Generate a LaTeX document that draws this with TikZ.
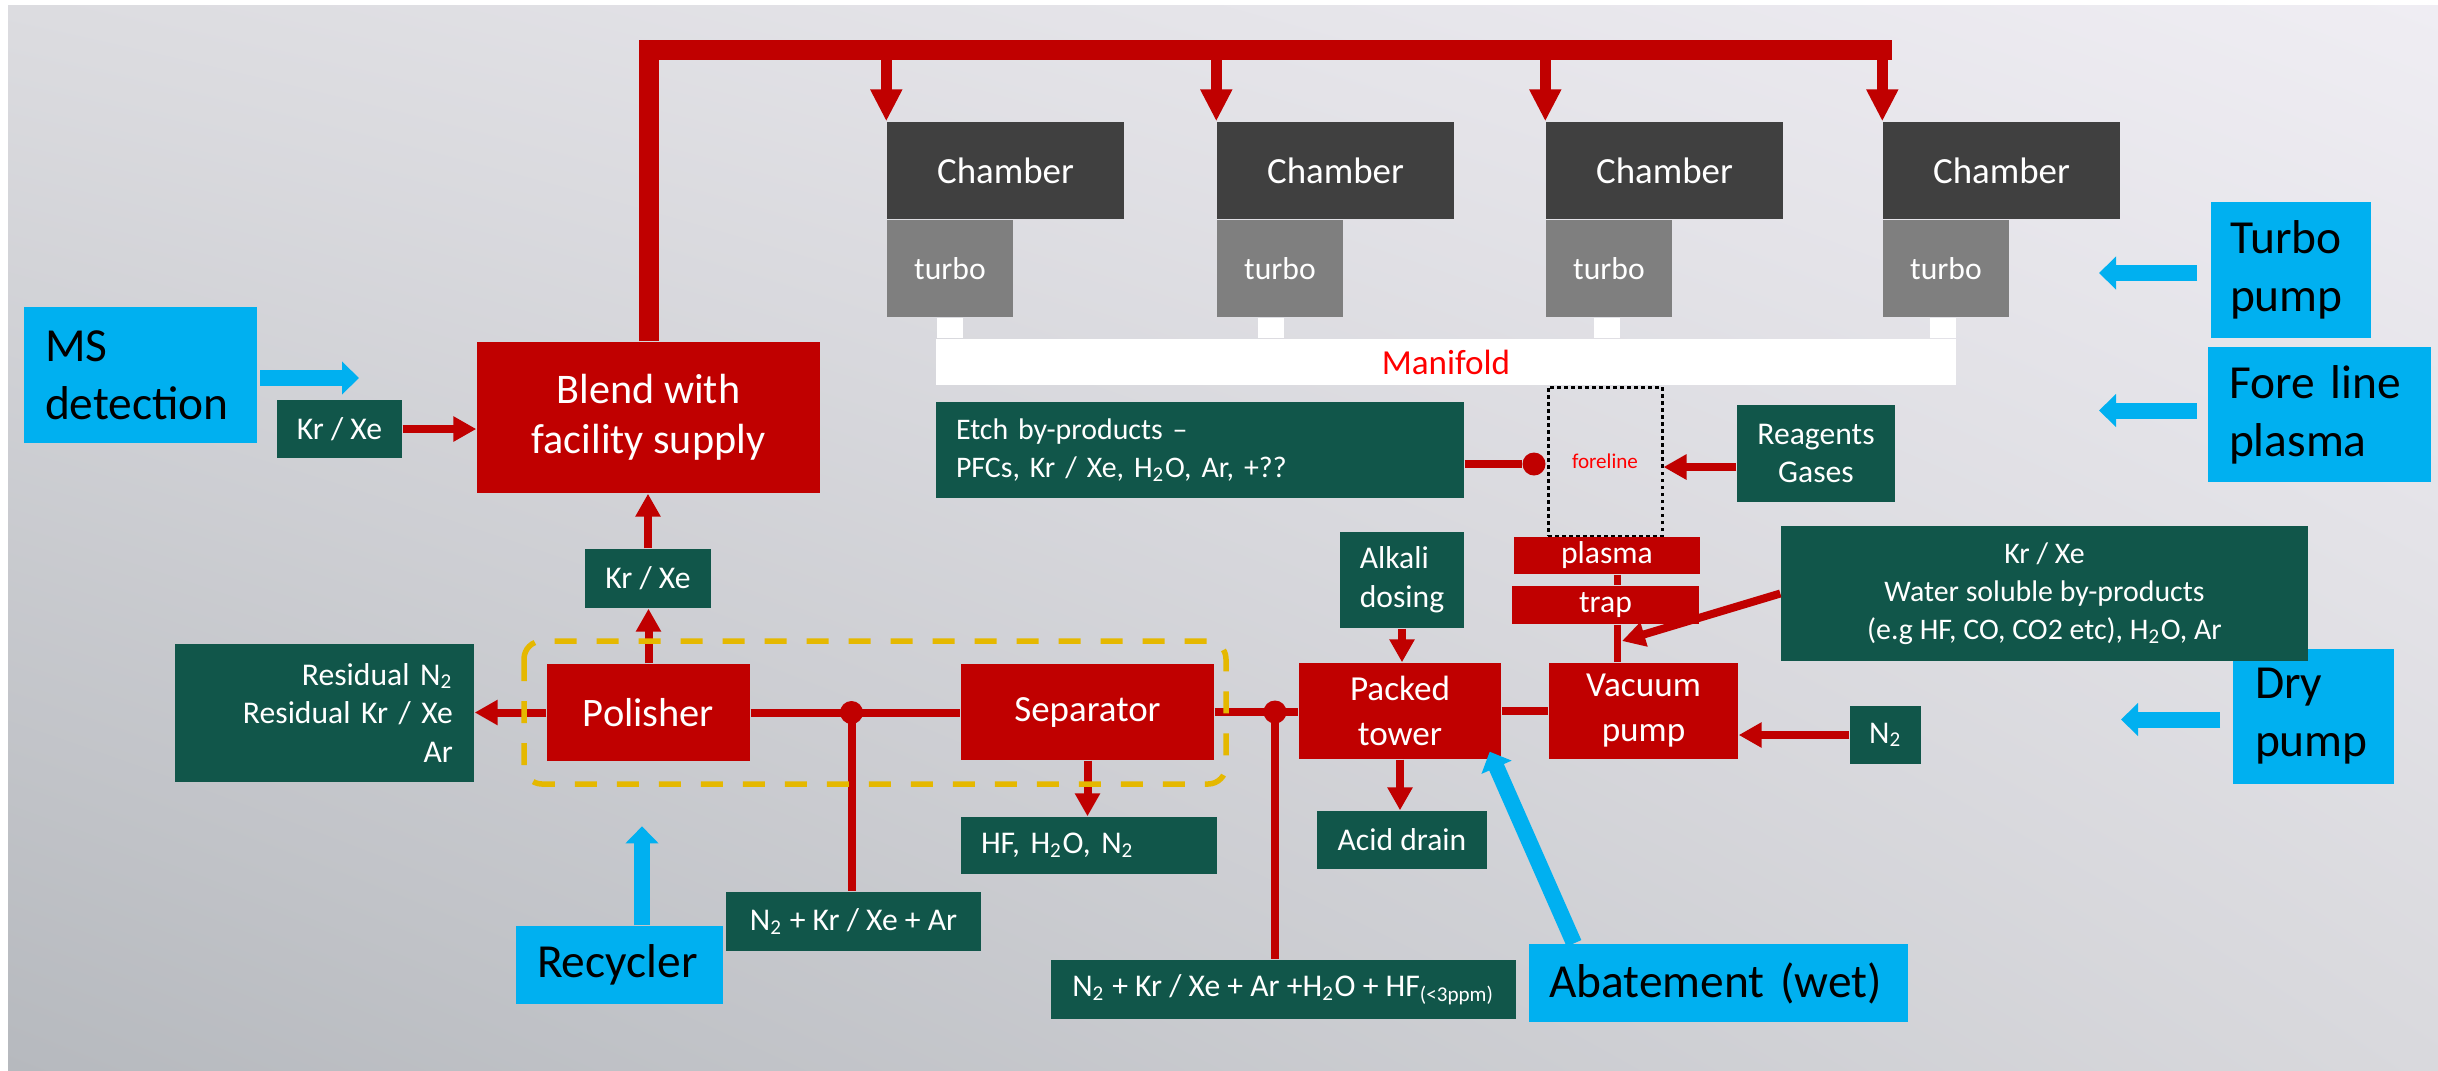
\documentclass[tikz,border=0pt]{standalone}
\usepackage{fontspec}
\setmainfont{Carlito}
\usepackage{xcolor}
\usetikzlibrary{arrows.meta, positioning, shadings}

\definecolor{procred}{HTML}{C00000}
\definecolor{gasgreen}{HTML}{11564A}
\definecolor{noteblue}{HTML}{00B0F0}
\definecolor{chambergray}{HTML}{404040}
\definecolor{turbogray}{HTML}{7F7F7F}
\definecolor{manired}{HTML}{FF0000}
\definecolor{loopyellow}{HTML}{E5B800}
\definecolor{bgul}{HTML}{DCDCE0}
\definecolor{bgur}{HTML}{EFEDF3}
\definecolor{bgll}{HTML}{B6B9BE}
\definecolor{bglr}{HTML}{D9D9DD}

\tikzset{
	procbox/.style={fill=procred, text=white, inner sep=0pt, align=center, font=\fontsize{10}{12.8}\selectfont},
	gasbox/.style={fill=gasgreen, text=white, inner sep=0pt, align=center, font=\fontsize{9}{11}\selectfont},
	notebox/.style={fill=noteblue, text=black, inner ysep=0pt, inner xsep=0.2cm, align=left, font=\fontsize{13.5}{16.5}\selectfont},
	chamberbox/.style={fill=chambergray, text=white, inner sep=0pt, font=\fontsize{10.5}{12}\selectfont, minimum width=2.37cm, minimum height=0.97cm},
	turbobox/.style={fill=turbogray, text=white, inner sep=0pt, font=\fontsize{9}{11}\selectfont, minimum width=1.26cm, minimum height=0.97cm, anchor=north west},
	junction/.style={circle, fill=procred, inner sep=0pt, minimum size=0.23cm},
	pipe/.style={draw=procred, line width=0.08cm},
	flow/.style={pipe, -{Triangle[length=0.23cm, width=0.24cm]}},
	bus/.style={draw=procred, line width=0.2cm},
	feed/.style={draw=procred, line width=0.11cm, -{Triangle[length=0.32cm, width=0.30cm]}},
	hint/.style={draw=noteblue, line width=0.16cm, -{Triangle[length=0.17cm, width=0.32cm]}},
}

\begin{document}
\begin{tikzpicture}[x=1cm, y=-1cm]
	% Slide background:
	\useasboundingbox (0,0) rectangle (24.38,10.70);
	\fill[white] (0,0) rectangle (24.38,10.70);
	\shade[upper left=bgul, upper right=bgur, lower left=bgll, lower right=bglr] (0.08,0.05) rectangle (24.38,10.70);

	% Paths, nodes and wires:
	\node[notebox, text width=1.91cm, inner xsep=0.21cm, minimum height=1.36cm] (ms) at (1.405,3.75) {MS\\detection};
	\node[gasbox, minimum width=1.25cm, minimum height=0.58cm] (krxeA) at (3.395,4.29) {Kr / Xe};
	\node[procbox, minimum width=3.43cm, minimum height=1.51cm, font=\fontsize{12}{14.2}\selectfont] (blend) at (6.485,4.175) {Blend with\\facility supply};

	\node[chamberbox] (chamber1) at (10.055,1.705) {Chamber};
	\node[chamberbox] (chamber2) at (13.355,1.705) {Chamber};
	\node[chamberbox] (chamber3) at (16.645,1.705) {Chamber};
	\node[chamberbox] (chamber4) at (20.015,1.705) {Chamber};
	\node[turbobox] (turbo1) at (chamber1.south west) {turbo};
	\node[turbobox] (turbo2) at (chamber2.south west) {turbo};
	\node[turbobox] (turbo3) at (chamber3.south west) {turbo};
	\node[turbobox] (turbo4) at (chamber4.south west) {turbo};

	\node[fill=white, minimum width=10.20cm, minimum height=0.46cm, inner sep=0pt, text=manired, font=\fontsize{10}{12}\selectfont] (manifold) at (14.46,3.62) {Manifold};
	\draw[white, line width=0.26cm] (turbo1.south) -- (turbo1.south |- manifold.north);
	\draw[white, line width=0.26cm] ([xshift=-0.09cm]turbo2.south) -- ([xshift=-0.09cm]turbo2.south |- manifold.north);
	\draw[white, line width=0.26cm] ([xshift=-0.02cm]turbo3.south) -- ([xshift=-0.02cm]turbo3.south |- manifold.north);
	\draw[white, line width=0.26cm] ([xshift=-0.03cm]turbo4.south) -- ([xshift=-0.03cm]turbo4.south |- manifold.north);

	\node[gasbox, align=left, text width=4.88cm, inner xsep=0.2cm, minimum height=0.96cm, font=\fontsize{8.5}{11}\selectfont] (etch) at (12.00,4.50) {Etch by-products \textendash\\PFCs, Kr / Xe, H\textsubscript{2}O, Ar, +??};
	\node[draw=black, line width=0.03cm, dash pattern=on 0.035cm off 0.035cm, minimum width=1.14cm, minimum height=1.49cm, inner sep=0pt, text=manired, font=\fontsize{6}{7}\selectfont] (foreline) at (16.05,4.615) {foreline};
	\node[gasbox, minimum width=1.58cm, minimum height=0.97cm] (reagents) at (18.16,4.535) {Reagents\\Gases};

	\node[notebox, text width=1.22cm, inner xsep=0.19cm, minimum height=1.36cm] (turbopump) at (22.91,2.70) {Turbo\\pump};
	\node[notebox, text width=1.81cm, inner xsep=0.21cm, minimum height=1.35cm] (foreplasma) at (23.195,4.145) {Fore line\\plasma};
	\node[notebox, text width=1.17cm, inner xsep=0.22cm, minimum height=1.35cm] (drypump) at (23.135,7.165) {Dry\\pump};
	\node[notebox, text width=3.39cm, minimum height=0.78cm] (abatement) at (17.185,9.83) {Abatement (wet)};
	\node[notebox, text width=1.65cm, inner xsep=0.21cm, minimum height=0.78cm] (recycler) at (6.195,9.65) {Recycler};

	\node[gasbox, minimum width=5.27cm, minimum height=1.35cm, font=\fontsize{8.5}{10.8}\selectfont] (water) at (20.445,5.935) {Kr / Xe\\Water soluble by-products\\(e.g HF, CO, CO2 etc), H\textsubscript{2}O, Ar};
	\node[gasbox, minimum width=0.71cm, minimum height=0.58cm] (ntwo) at (18.855,7.35) {N\textsubscript{2}};

	\node[procbox, minimum width=1.86cm, minimum height=0.37cm, font=\fontsize{9}{11}\selectfont] (plasma) at (16.07,5.555) {plasma};
	\node[procbox, minimum width=1.87cm, minimum height=0.38cm, font=\fontsize{9}{11}\selectfont] (trap) at (16.055,6.05) {trap};
	\node[procbox, minimum width=1.89cm, minimum height=0.96cm] (vacuum) at (16.435,7.11) {Vacuum\\pump};
	\node[procbox, minimum width=2.02cm, minimum height=0.96cm] (packed) at (14.00,7.11) {Packed\\tower};
	\node[gasbox, align=left, minimum width=1.24cm, minimum height=0.96cm] (alkali) at (14.02,5.80) {Alkali\\dosing};
	\node[gasbox, minimum width=1.70cm, minimum height=0.58cm] (acid) at (14.02,8.40) {Acid drain};

	\node[procbox, minimum width=2.53cm, minimum height=0.96cm, font=\fontsize{10.5}{12}\selectfont] (separator) at (10.875,7.12) {Separator};
	\node[gasbox, align=left, text width=2.16cm, inner xsep=0.2cm, minimum height=0.57cm] (hf) at (10.89,8.455) {HF, H\textsubscript{2}O, N\textsubscript{2}};
	\node[gasbox, minimum width=4.65cm, minimum height=0.59cm] (nhf) at (12.835,9.895) {N\textsubscript{2} + Kr / Xe + Ar +H\textsubscript{2}O + HF\textsubscript{(<3ppm)}};

	\node[procbox, minimum width=2.03cm, minimum height=0.97cm, font=\fontsize{11.5}{13}\selectfont] (polisher) at (6.485,7.125) {Polisher};
	\node[gasbox, minimum width=1.26cm, minimum height=0.59cm] (krxeB) at (6.48,5.785) {Kr / Xe};
	\node[gasbox, align=right, text width=2.57cm, inner xsep=0.21cm, minimum height=1.38cm] (residual) at (3.245,7.13) {Residual N\textsubscript{2}\\Residual Kr / Xe\\Ar};
	\node[gasbox, minimum width=2.55cm, minimum height=0.59cm] (nkr) at (8.535,9.215) {N\textsubscript{2} + Kr / Xe + Ar};

	% supply bus to the chambers
	\coordinate (busline) at (0,0.495);
	\path (chamber4.north west |- busline) ++(0.1,0) coordinate (busend);
	\draw[bus] (blend.north) |- (busend);
	\draw[feed] (chamber1.north west |- busline) -- (chamber1.north west);
	\draw[feed] (chamber2.north west |- busline) -- (chamber2.north west);
	\draw[feed] (chamber3.north west |- busline) -- (chamber3.north west);
	\draw[feed] (chamber4.north west |- busline) -- (chamber4.north west);

	% process lines
	\draw[flow] (krxeA.east) -- (krxeA.east -| blend.west);
	\draw[flow] (krxeB.north) -- (krxeB.north |- blend.south);
	\draw[flow] (polisher.north) -- (polisher.north |- krxeB.south);
	\draw[flow] (polisher.west) -- (polisher.west -| residual.east);
	\draw[pipe] (polisher.east) -- (polisher.east -| separator.west);
	\draw[pipe] (separator.east) -- (separator.east -| packed.west);
	\node[junction] (junA) at (8.515,7.125) {};
	\node[junction] (junB) at (12.75,7.12) {};
	\draw[pipe] (junA.center) -- (junA.center |- nkr.north);
	\draw[pipe] (junB.center) -- (junB.center |- nhf.north);
	\draw[flow] (separator.south) -- (separator.south |- hf.north);
	\draw[flow] (alkali.south) -- (alkali.south |- packed.north);
	\draw[flow] (packed.south) -- (packed.south |- acid.north);
	\draw[pipe] (packed.east) -- (packed.east -| vacuum.west);
	\draw[flow] (ntwo.west) -- (ntwo.west -| vacuum.east);
	\draw[pipe, line width=0.07cm] ([xshift=0.1cm]plasma.south) -- ([xshift=0.1cm]plasma.south |- trap.north);
	\draw[pipe, line width=0.07cm] ([xshift=0.115cm]trap.south) -- ([xshift=0.115cm]trap.south |- vacuum.north);
	\coordinate (waterin) at (16.22,6.41);
	\draw[flow] (water.west) -- (waterin);
	\node[junction] (etchdot) at (15.34,4.64) {};
	\draw[pipe] (etchdot -| etch.east) -- (etchdot);
	\draw[flow] ([yshift=-0.135cm]reagents.west) -- ([yshift=-0.135cm]reagents.west -| foreline.east);

	% recycler loop
	\draw[loopyellow, line width=0.055cm, dash pattern=on 0.22cm off 0.2cm, rounded corners=0.18cm] (5.24,6.41) rectangle (12.26,7.84);

	% pointers from the labels
	\coordinate (mshint) at (2.60,3.78);
	\draw[hint] (mshint) -- ++(0.99,0);
	\coordinate (turbohint) at (21.97,2.73);
	\draw[hint] (turbohint) -- ++(-0.98,0);
	\coordinate (plasmahint) at (21.97,4.105);
	\draw[hint] (plasmahint) -- ++(-0.98,0);
	\coordinate (dryhint) at (22.20,7.195);
	\draw[hint] (dryhint) -- ++(-0.99,0);
	\draw[hint] ([xshift=0.225cm]recycler.north) -- ++(0,-0.99);
	\draw[hint] ([xshift=-1.445cm]abatement.north) -- ([shift={(-0.12,-0.08)}]packed.south east);
\end{tikzpicture}
\end{document}
